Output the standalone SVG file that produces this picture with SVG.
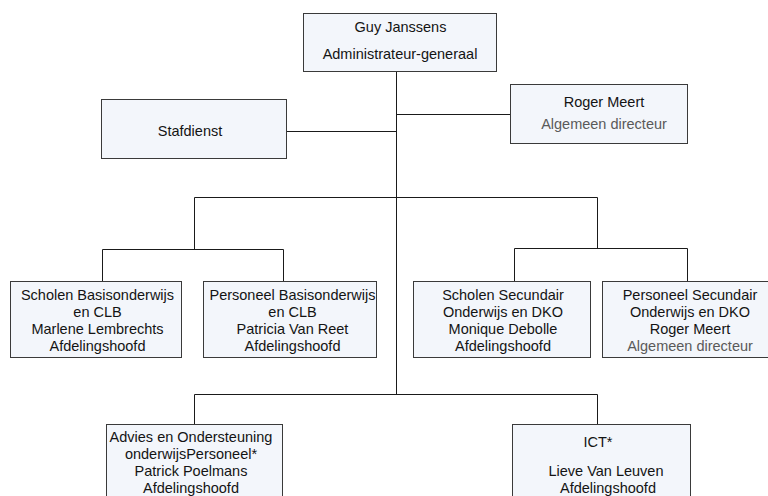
<svg xmlns="http://www.w3.org/2000/svg" width="768" height="496" viewBox="0 0 768 496">
<style>
.box{fill:#F3F6FB;stroke:#3a3a3a;stroke-width:1}
.t{font-family:"Liberation Sans",Arial,sans-serif;font-size:14.5px;fill:#141414;text-anchor:middle}
.g{fill:#5a5a5a}
.c{fill:none;stroke:#1a1a1a;stroke-width:1}
</style>
<rect width="768" height="496" fill="#ffffff"/>
<g id="connectors">
<path class="c" d="M396.5 71.5V394.5M286.5 131.5H396.5M396.5 114.5H510.5M194.5 197.5H597.5M194.5 197.5V249.5M102.5 249.5H283.5M102.5 249.5V281.5M283.5 249.5V281.5M597.5 197.5V248.5M514.5 248.5H687.5M514.5 248.5V281.5M687.5 248.5V281.5M194.5 394.5H597.5M194.5 394.5V424.5M597.5 394.5V424.5"/>
</g>
<g id="guy">
<rect class="box" x="303.5" y="13.5" width="193" height="58"/>
<text class="t" x="400.5" y="32">Guy Janssens</text>
<text class="t" x="400" y="59">Administrateur-generaal</text>
</g>
<g id="stafdienst">
<rect class="box" x="101.5" y="99.5" width="185" height="59"/>
<text class="t" x="190" y="136">Stafdienst</text>
</g>
<g id="roger">
<rect class="box" x="510.5" y="84.5" width="177" height="59"/>
<text class="t" x="604" y="107">Roger Meert</text>
<text class="t g" x="604" y="128.5">Algemeen directeur</text>
</g>
<g id="scholen-basis">
<rect class="box" x="10.5" y="281.5" width="171" height="76"/>
<text class="t" x="97.5" y="300">Scholen Basisonderwijs</text>
<text class="t" x="97.5" y="317">en CLB</text>
<text class="t" x="97.5" y="334">Marlene Lembrechts</text>
<text class="t" x="97.5" y="351">Afdelingshoofd</text>
</g>
<g id="personeel-basis">
<rect class="box" x="203.5" y="281.5" width="173" height="76"/>
<text class="t" x="292.5" y="300">Personeel Basisonderwijs</text>
<text class="t" x="292.5" y="317">en CLB</text>
<text class="t" x="292.5" y="334">Patricia Van Reet</text>
<text class="t" x="292.5" y="351">Afdelingshoofd</text>
</g>
<g id="scholen-secundair">
<rect class="box" x="413.5" y="281.5" width="177" height="76"/>
<text class="t" x="503" y="300">Scholen Secundair</text>
<text class="t" x="503" y="317">Onderwijs en DKO</text>
<text class="t" x="503" y="334">Monique Debolle</text>
<text class="t" x="503" y="351">Afdelingshoofd</text>
</g>
<g id="personeel-secundair">
<rect class="box" x="602.5" y="281.5" width="172" height="76"/>
<text class="t" x="690" y="300">Personeel Secundair</text>
<text class="t" x="690" y="317">Onderwijs en DKO</text>
<text class="t" x="690" y="334">Roger Meert</text>
<text class="t g" x="690" y="351">Algemeen directeur</text>
</g>
<g id="advies">
<rect class="box" x="106.5" y="424.5" width="176" height="80"/>
<text class="t" x="191" y="442">Advies en Ondersteuning</text>
<text class="t" x="191" y="459">onderwijsPersoneel*</text>
<text class="t" x="191" y="476">Patrick Poelmans</text>
<text class="t" x="191" y="493">Afdelingshoofd</text>
</g>
<g id="ict">
<rect class="box" x="512.5" y="424.5" width="178" height="80"/>
<text class="t" x="598" y="447">ICT*</text>
<text class="t" x="606" y="476">Lieve Van Leuven</text>
<text class="t" x="608" y="493">Afdelingshoofd</text>
</g>
</svg>
